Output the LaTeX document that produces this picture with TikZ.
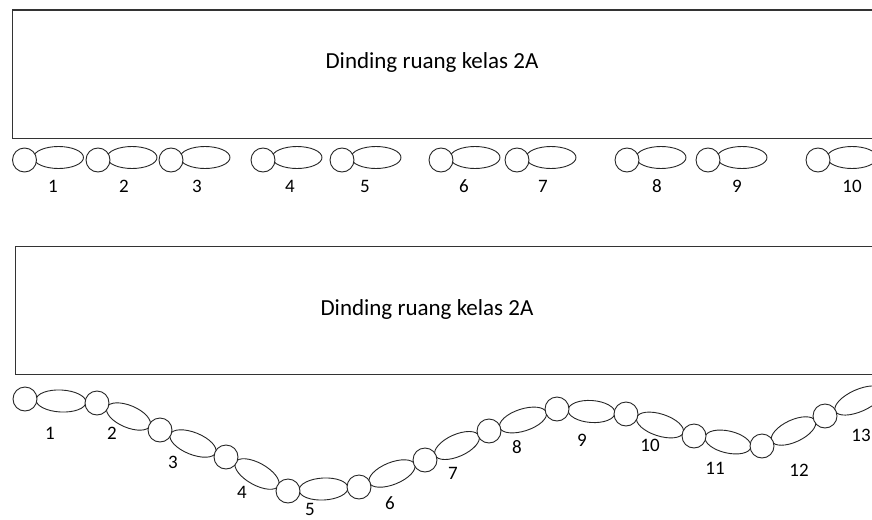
\documentclass[tikz,border=0pt]{standalone}
\usepackage{fontspec}
\setmainfont{Carlito}
\usetikzlibrary{shapes.geometric}

\begin{document}
\begin{tikzpicture}[
      x=1pt, y=-1pt,
      wall/.style={draw=black!80, line width=1.2pt, anchor=north west,
        minimum width=900pt, minimum height=128pt, inner sep=0pt},
      walltxt/.style={font=\fontsize{23}{26}\selectfont},
      body/.style={draw=black!85, line width=0.9pt, ellipse, fill=white,
        minimum width=50pt, minimum height=22pt, inner sep=0pt},
      head/.style={draw=black!85, line width=0.9pt, circle, fill=white,
        minimum size=24pt, inner sep=0pt},
      num/.style={font=\fontsize{19}{22}\selectfont, inner sep=0pt},
    ]
    \useasboundingbox (0,0) rectangle (872,519);
    \clip (0,0) rectangle (872,519);

    % walls (right side runs off the page)
    \node[wall] (wall1) at (12,9.5) {};
    \node[walltxt] (wtxt1) at (432,62) {Dinding ruang kelas 2A};
    \node[wall] (wall2) at (15,246) {};
    \node[walltxt] (wtxt2) at (427,309) {Dinding ruang kelas 2A};

    % row 1: kids lying in a straight line along the wall
    \node[body] (tb1) at (58.5,157.5) {}; \node[head] (th1) at (24.5,160) {}; \node[num] (tn1) at (53,186) {1};
    \node[body] (tb2) at (132,157.5) {};  \node[head] (th2) at (98,160) {};   \node[num] (tn2) at (124,186) {2};
    \node[body] (tb3) at (205,157.5) {};  \node[head] (th3) at (171,160) {};  \node[num] (tn3) at (197,186) {3};
    \node[body] (tb4) at (297,157.5) {};  \node[head] (th4) at (263,160) {};  \node[num] (tn4) at (290,186) {4};
    \node[body] (tb5) at (376,157.5) {};  \node[head] (th5) at (342,160) {};  \node[num] (tn5) at (365,186) {5};
    \node[body] (tb6) at (475,157.5) {};  \node[head] (th6) at (441,160) {};  \node[num] (tn6) at (464,186) {6};
    \node[body] (tb7) at (551,157.5) {};  \node[head] (th7) at (517,160) {};  \node[num] (tn7) at (543,186) {7};
    \node[body] (tb8) at (661,157.5) {};  \node[head] (th8) at (627,160) {};  \node[num] (tn8) at (657,186) {8};
    \node[body] (tb9) at (742,157.5) {};  \node[head] (th9) at (708,160) {};  \node[num] (tn9) at (737,186) {9};
    \node[body] (tb10) at (852,157.5) {}; \node[head] (th10) at (818,160) {}; \node[num] (tn10) at (852,186) {10};

    % row 2: kids linked head to feet in a wavy chain
    \node[body, rotate=-3] (cb1) at (61,401) {};                           \node[head] (ch1) at (25,399) {};   \node[num] (cn1) at (50,433) {1};
    \node[body, rotate=-23, minimum width=47pt] (cb2) at (128.5,416.5) {}; \node[head] (ch2) at (97,403) {};   \node[num] (cn2) at (112,433) {2};
    \node[body, rotate=-22, minimum width=49pt] (cb3) at (193,443.5) {};   \node[head] (ch3) at (160,430) {};  \node[num] (cn3) at (173,462) {3};
    \node[body, rotate=-29, minimum width=49pt] (cb4) at (257,474) {};     \node[head] (ch4) at (226,457) {};  \node[num] (cn4) at (242,492) {4};
    \node[body, rotate=3, minimum width=49pt] (cb5) at (323.5,489) {};     \node[head] (ch5) at (288,491) {};  \node[num] (cn5) at (310,509) {5};
    \node[body, rotate=22, minimum width=49pt] (cb6) at (392,473.5) {};    \node[head] (ch6) at (359,487) {};  \node[num] (cn6) at (390,503) {6};
    \node[body, rotate=24, minimum width=48pt] (cb7) at (457,445.5) {};    \node[head] (ch7) at (425,460) {};  \node[num] (cn7) at (453,473) {7};
    \node[body, rotate=18, minimum width=49pt] (cb8) at (523,420) {};      \node[head] (ch8) at (489,431) {};  \node[num] (cn8) at (517,447) {8};
    \node[body, rotate=-4, minimum width=47pt] (cb9) at (591.5,411.5) {};  \node[head] (ch9) at (557,409) {};  \node[num] (cn9) at (582,440) {9};
    \node[body, rotate=-18, minimum width=49pt] (cb10) at (660,425) {};    \node[head] (ch10) at (626,414) {}; \node[num] (cn10) at (650,445) {10};
    \node[body, rotate=-13, minimum width=47pt] (cb11) at (728,442) {};    \node[head] (ch11) at (694,436) {}; \node[num] (cn11) at (715,468) {11};
    \node[body, rotate=25, minimum width=48pt] (cb12) at (793.5,431) {};   \node[head] (ch12) at (762,446) {}; \node[num] (cn12) at (799,470) {12};
    \node[body, rotate=24, minimum width=52pt] (cb13) at (859,400.5) {};   \node[head] (ch13) at (825,416) {}; \node[num] (cn13) at (861,435) {13};
  \end{tikzpicture}
\end{document}
